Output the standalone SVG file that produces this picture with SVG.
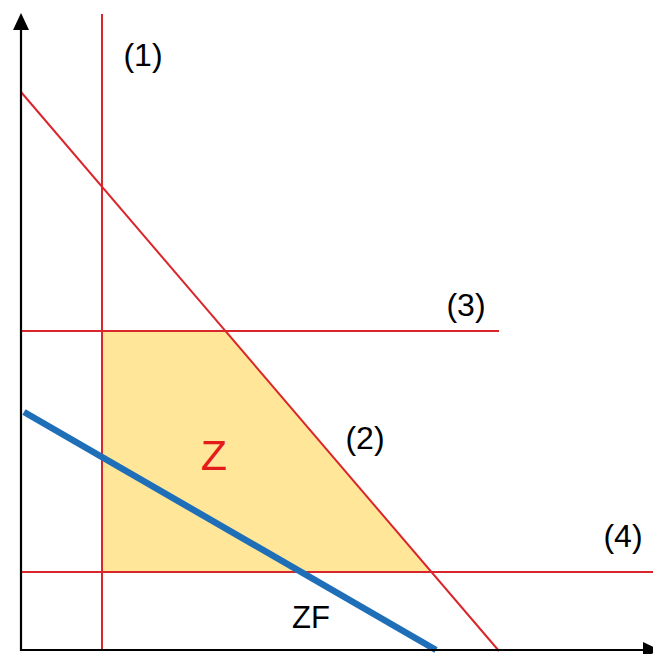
<svg xmlns="http://www.w3.org/2000/svg" width="653" height="654" viewBox="0 0 653 654">
<style>
.c{stroke:#D9262B;stroke-width:2;fill:none}
.ax{stroke:#000;stroke-width:2.2;fill:none}
.lbl{font-family:"Liberation Sans",Arial,sans-serif;font-size:32px;fill:#000;text-anchor:middle}
</style>
<rect width="653" height="654" fill="#fff"/>
<g id="zone">
<polygon points="102,331 227,331 432,572 102,572" fill="#FFE699"/>
</g>
<g id="connectors">
<line class="c" x1="102" y1="14" x2="102" y2="651"/>
<line class="c" x1="21" y1="92" x2="499" y2="651"/>
<line class="c" x1="21" y1="331" x2="499" y2="331"/>
<line class="c" x1="21" y1="572" x2="653" y2="572"/>
<line x1="24" y1="412" x2="436" y2="650" stroke="#1F6FB8" stroke-width="6.5"/>
</g>
<g id="axes">
<line class="ax" x1="21" y1="26" x2="21" y2="651"/>
<polygon points="21,13 13,30 29,30" fill="#000"/>
<line class="ax" x1="21" y1="650" x2="645" y2="650"/>
<polygon points="660,650 643,642 643,658" fill="#000"/>
</g>
<g id="labels">
<text class="lbl" x="143" y="66">(1)</text>
<text class="lbl" x="365" y="449">(2)</text>
<text class="lbl" x="466" y="316">(3)</text>
<text class="lbl" x="623" y="547">(4)</text>
<text x="214" y="470" font-family="Liberation Sans,Arial,sans-serif" font-size="43" fill="#E31B1B" text-anchor="middle">Z</text>
<text x="311" y="628" font-family="Liberation Sans,Arial,sans-serif" font-size="31" fill="#000" text-anchor="middle">ZF</text>
</g>
</svg>
